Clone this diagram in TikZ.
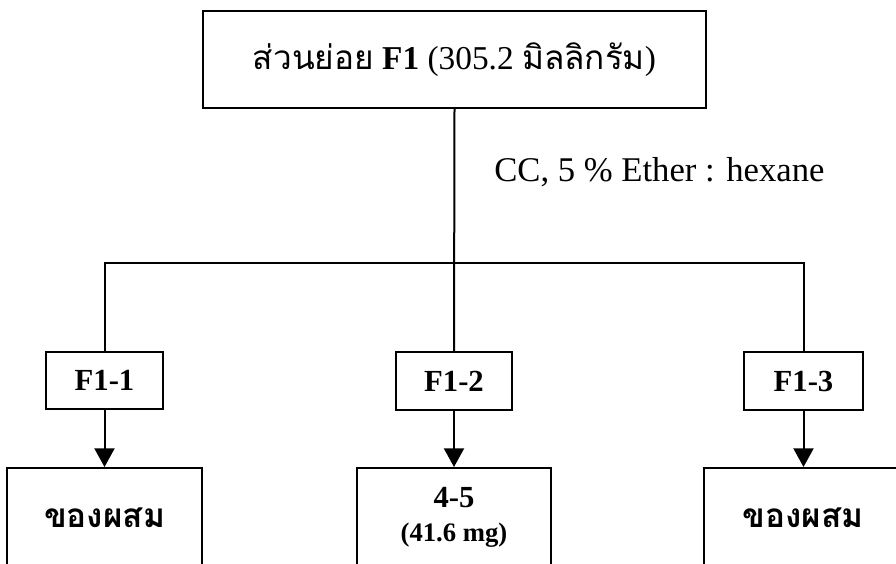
\documentclass[tikz,border=0pt]{standalone}
\usepackage{fontspec}
\setmainfont{Liberation Serif}
\newfontfamily\thai[Script=Thai]{Loma}
\usetikzlibrary{arrows.meta}
\tikzset{
  box/.style={draw, line width=1.5pt, rectangle, inner sep=0pt, align=center},
  conn/.style={line width=1.5pt},
  arr/.style={line width=1.5pt, -{Triangle[width=15pt,length=14pt]}},
}
\begin{document}
\begin{tikzpicture}[x=0.75pt, y=-0.75pt]
\useasboundingbox[fill=white] (0,0) rectangle (896,564);
% top box
\node[box, minimum width=377.25pt, minimum height=72.75pt, font=\fontsize{25}{30}\selectfont] (top) at (454.5,59.5)
  {{\thai\fontsize{25}{30}\selectfont ส่วนย่อย} \textbf{F1} (305.2 {\thai\fontsize{25}{30}\selectfont มิลลิกรัม})};
% label
\node[anchor=west, inner sep=0pt, font=\fontsize{26}{30}\selectfont] (cc) at (494,172) {CC, 5 \% Ether : hexane};
% fraction boxes
\node[box, minimum width=87.75pt, minimum height=42.75pt, font=\fontsize{23}{27}\selectfont\bfseries] (f11) at (104.5,380.5) {F1-1};
\node[box, minimum width=87pt, minimum height=43.5pt, font=\fontsize{23}{27}\selectfont\bfseries] (f12) at (454,381) {F1-2};
\node[box, minimum width=89.25pt, minimum height=43.5pt, font=\fontsize{23}{27}\selectfont\bfseries] (f13) at (803.5,381) {F1-3};
% bottom boxes
\node[box, minimum width=146.25pt, minimum height=74.25pt, font=\thai\fontsize{25}{30}\selectfont\bfseries] (b1) at (104.5,517.5) {ของผสม};
\node[box, minimum width=145.5pt, minimum height=74.25pt, font=\bfseries\fontsize{23}{25}\selectfont] (b2) at (454,517.5)
  {4-5\\{\fontsize{20}{25}\selectfont (41.6 mg)}};
\node[box, minimum width=148.5pt, minimum height=74.25pt, font=\thai\fontsize{25}{30}\selectfont\bfseries] (b3) at (803,517.5) {ของผสม};
% connectors
\coordinate (bar) at (454,263);
\draw[conn] (top.south) -- (f12.north);
\draw[conn] (f11.north) -- (f11.north |- bar) -- (f13.north |- bar) -- (f13.north);
\draw[arr] (f11.south) -- (b1.north);
\draw[arr] (f12.south) -- (b2.north);
\draw[arr] (f13.south) -- (f13.south |- b3.north);
\end{tikzpicture}
\end{document}
